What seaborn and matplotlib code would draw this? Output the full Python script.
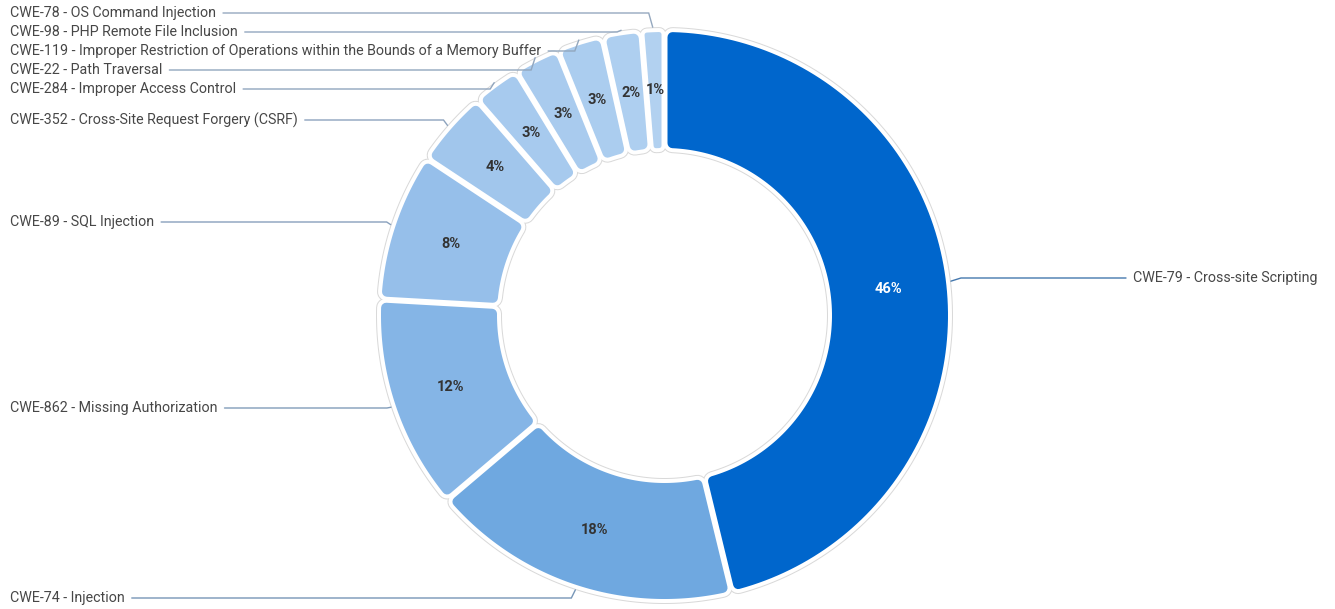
import numpy as np
import matplotlib
matplotlib.use("Agg")
import matplotlib.pyplot as plt
from matplotlib.patches import Polygon
from matplotlib.colors import to_rgb
import seaborn as sns

# Share of reported vulnerabilities by CWE class (clockwise from 12 o'clock)
categories = [
    "CWE-79 - Cross-site Scripting",
    "CWE-74 - Injection",
    "CWE-862 - Missing Authorization",
    "CWE-89 - SQL Injection",
    "CWE-352 - Cross-Site Request Forgery (CSRF)",
    "CWE-284 - Improper Access Control",
    "CWE-22 - Path Traversal",
    "CWE-119 - Improper Restriction of Operations within the Bounds of a Memory Buffer",
    "CWE-98 - PHP Remote File Inclusion",
    "CWE-78 - OS Command Injection",
]
shares = [46.2, 17.6, 12.1, 8.4, 4.3, 2.7, 2.6, 2.6, 2.2, 1.3]
slice_colors = [
    "#0066cc", "#6fa8e0", "#85b5e6", "#96bfea", "#a1c6ec",
    "#a7caee", "#a9cbee", "#abcdef", "#aecff0", "#b2d1f0",
]

sns.set_theme(style="white")
plt.rcParams["font.family"] = ["Roboto", "DejaVu Sans"]

W, H, DPI = 1335, 609, 100
PT = 72 / DPI
fig = plt.figure(figsize=(W / DPI, H / DPI), dpi=DPI)
fig.patch.set_facecolor("white")
ax = fig.add_axes([0, 0, 1, 1])
ax.set_xlim(0, W)
ax.set_ylim(H, 0)
ax.axis("off")

# ring geometry (pixel units)
cx, cy = 664.5, 315.5
r_out, r_in = 283.5, 167.5
gap, halo, rim, corner = 6.0, 4.0, 1.0, 5.0
label_rows = [278, 598, 408, 222, 120, 89, 70, 51, 32, 13]

vals = np.asarray(shares, dtype=float)
frac = vals / vals.sum()
ends = np.cumsum(frac)
starts = ends - frac
theta_hi = 90 - 360 * starts
theta_lo = 90 - 360 * ends
theta_mid = (theta_hi + theta_lo) / 2


def polar(r, th):
    t = np.radians(th)
    return cx + r * np.cos(t), cy - r * np.sin(t)


def core_shape(lo, hi, rc):
    d = gap / 2 + rc
    ro, ri = r_out - rc, r_in + rc
    do = np.degrees(np.arcsin(d / ro))
    di = np.degrees(np.arcsin(d / ri))
    to = np.linspace(lo + do, hi - do, 120)
    ti = np.linspace(hi - di, lo + di, 120)
    xo, yo = polar(ro, to)
    xi, yi = polar(ri, ti)
    return np.column_stack([np.concatenate([xo, xi]), np.concatenate([yo, yi])])


for lo, hi, col, v in zip(theta_lo, theta_hi, slice_colors, vals):
    half = np.radians(hi - lo) / 2
    avail = r_in * np.sin(half) - gap / 2
    rc = min(corner, 0.6 * avail)
    shape = core_shape(lo, hi, rc)
    for z, fc, grow in [(1, "#d9d9d9", rc + halo + rim), (2, "white", rc + halo), (3, col, rc)]:
        ax.add_patch(Polygon(shape, closed=True, facecolor=fc, edgecolor=fc,
                             lw=2 * grow * PT, joinstyle="round", zorder=z))

# percentage labels inside the ring
r_mid = (r_out + r_in) / 2
for th, v, col in zip(theta_mid, vals, slice_colors):
    x, y = polar(r_mid, th)
    ax.text(x, y, f"{v:.0f}%", ha="center", va="center", fontsize=10.5,
            fontweight="bold", color="white" if col == "#0066cc" else "#333333", zorder=5)

# category labels with leader lines
texts = []
for name, th, row in zip(categories, theta_mid, label_rows):
    axx, axy = polar(r_out + halo + 1, th)
    right = axx > cx
    tx = 1133 if right else 10
    t = ax.text(tx, row, name, ha="left", va="center", fontsize=10.3, color="#474747", zorder=5)
    texts.append((t, axx, axy, right, row))

fig.canvas.draw()
renderer = fig.canvas.get_renderer()
inv = ax.transData.inverted()
for (t, axx, axy, right, row), col in zip(texts, slice_colors):
    bb = t.get_window_extent(renderer)
    (x0, _), (x1, _) = inv.transform([[bb.x0, bb.y0], [bb.x1, bb.y1]])
    lc = 0.45 * np.array(to_rgb(col)) + 0.55 * np.array(to_rgb("#7d8796"))
    if right:
        xs = [axx, axx + 10, x0 - 7]
        ys = [axy, row, row]
    else:
        xs = [x1 + 7, axx - 4, axx]
        ys = [row, row, axy]
    ax.plot(xs, ys, color=lc, lw=1.0, solid_joinstyle="miter", zorder=4)

fig.savefig("out.png", dpi=DPI, facecolor="white")
